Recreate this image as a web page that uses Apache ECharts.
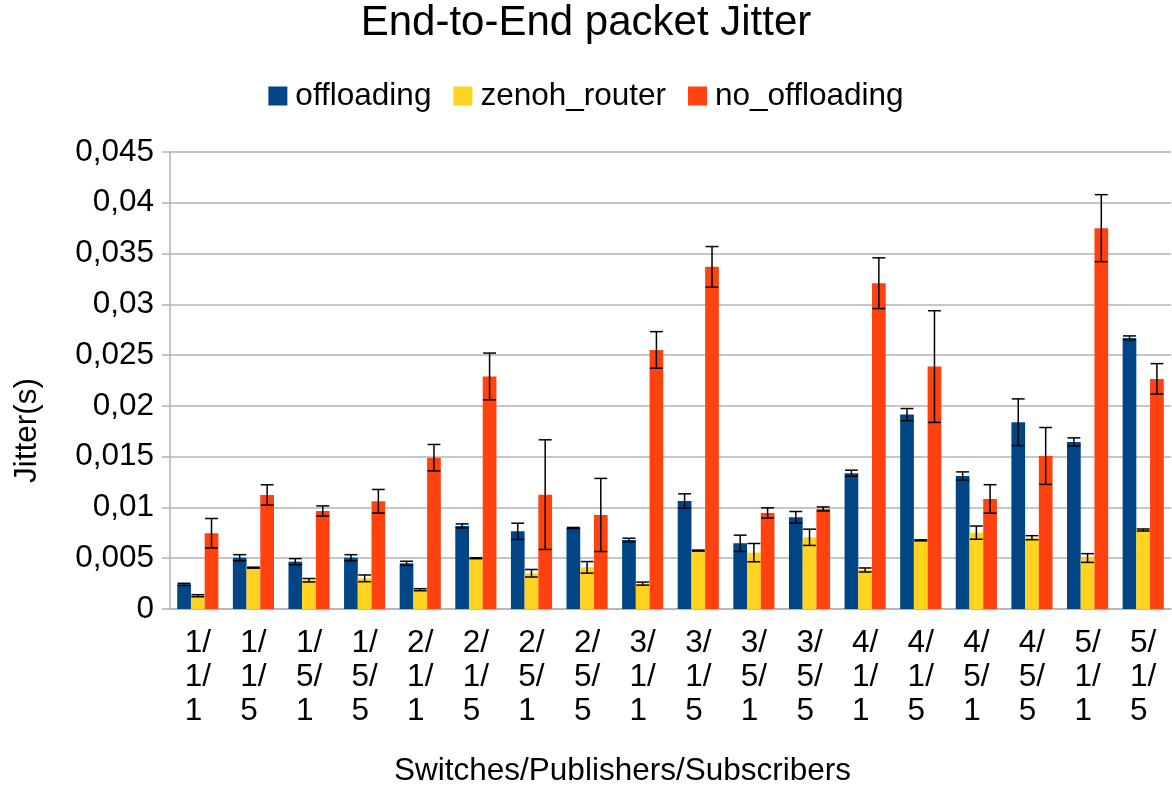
<!DOCTYPE html>
<html>
<head>
<meta charset="utf-8">
<title>End-to-End packet Jitter</title>
<script src="https://cdn.jsdelivr.net/npm/echarts@6/dist/echarts.min.js"></script>
<style>
html, body { margin: 0; padding: 0; background: #fff; }
#chart { width: 1172px; height: 785px; }
</style>
</head>
<body>
<div id="chart"></div>
<script>
// Switches/Publishers/Subscribers
var categories = ['1/1/1', '1/1/5', '1/5/1', '1/5/5', '2/1/1', '2/1/5', '2/5/1', '2/5/5', '3/1/1',
	'3/1/5', '3/5/1', '3/5/5', '4/1/1', '4/1/5', '4/5/1', '4/5/5', '5/1/1', '5/1/5'];

var offloading = [0.00243, 0.00505, 0.00466, 0.00505, 0.0045, 0.00818, 0.00765, 0.00798, 0.0068,
	0.01064, 0.00647, 0.00903, 0.01337, 0.01914, 0.0131, 0.01839, 0.01645, 0.02669];
var offloadingErr = [0.0001, 0.0003, 0.0003, 0.0003, 0.0002, 0.0002, 0.0008, 0.00005, 0.00017,
	0.0007, 0.0008, 0.00057, 0.0003, 0.0006, 0.0004, 0.0023, 0.0004, 0.0002];

var zenohRouter = [0.00131, 0.00407, 0.00283, 0.00302, 0.0019, 0.005, 0.00352, 0.0041, 0.0025,
	0.00575, 0.00555, 0.00706, 0.00384, 0.00676, 0.00752, 0.00702, 0.00502, 0.00778];
var zenohRouterErr = [0.0001, 0.00005, 0.00017, 0.00033, 0.0001, 0.00005, 0.00037, 0.00057, 0.00015,
	0.00005, 0.0009, 0.0008, 0.0002, 0.00005, 0.00065, 0.0002, 0.00043, 0.0001];

var noOffloading = [0.00746, 0.01123, 0.00965, 0.01061, 0.0149, 0.0229, 0.01126, 0.00926, 0.02551,
	0.03369, 0.00946, 0.00985, 0.03208, 0.02387, 0.01084, 0.01507, 0.0375, 0.02266];
var noOffloadingErr = [0.00145, 0.001, 0.0005, 0.00116, 0.0013, 0.0023, 0.0054, 0.0036, 0.0018,
	0.002, 0.0005, 0.0002, 0.0025, 0.0055, 0.0014, 0.0028, 0.0033, 0.0015];

var seriesNames = ['offloading', 'zenoh_router', 'no_offloading'];
var colors = ['#004586', '#ffd320', '#ff420e'];

var FONT = 'Liberation Sans';
var GAP = 0.26; // barCategoryGap

// error bars, drawn over bar number idx of the group
function errorSeries(name, idx, values, errs) {
	var data = [];
	for (var i = 0; i < values.length; i++) {
		data.push([i, values[i], errs[i]]);
	}
	return {
		type: 'custom',
		name: name + '_err',
		silent: true,
		z: 10,
		data: data,
		renderItem: function(params, api) {
			var v = api.value(1), e = api.value(2);
			var band = api.size([1, 0])[0];
			var barW = band * (1 - GAP) / 3;
			var hi = api.coord([api.value(0), v + e]);
			var lo = api.coord([api.value(0), v - e]);
			var x = hi[0] + (idx - 1) * barW;
			var half = barW * 0.47;
			var st = { stroke: '#000', lineWidth: 1.5 };
			return {
				type: 'group',
				children: [
					{ type: 'line', shape: { x1: x, y1: hi[1], x2: x, y2: lo[1] }, style: st },
					{ type: 'line', shape: { x1: x - half, y1: hi[1], x2: x + half, y2: hi[1] }, style: st },
					{ type: 'line', shape: { x1: x - half, y1: lo[1], x2: x + half, y2: lo[1] }, style: st }
				]
			};
		}
	};
}

function barSeries(name, values, color) {
	return {
		type: 'bar',
		name: name,
		data: values,
		barGap: '0%',
		barCategoryGap: (GAP * 100) + '%',
		itemStyle: { color: color }
	};
}

var myChart = echarts.init(document.getElementById('chart'));
var option = {
	animation: false,
	color: colors,
	textStyle: { fontFamily: FONT },
	title: {
		text: 'End-to-End packet Jitter',
		left: 'center',
		top: -3,
		textStyle: { fontFamily: FONT, fontSize: 42, fontWeight: 'normal', color: '#000' }
	},
	legend: {
		data: seriesNames,
		top: 75,
		left: 'center',
		itemWidth: 19,
		itemHeight: 19,
		itemGap: 22,
		icon: 'rect',
		textStyle: { fontFamily: FONT, fontSize: 31.5, color: '#000', padding: [0, 0, 0, 3] }
	},
	grid: { left: 170, right: 1, top: 152, bottom: 176, outerBoundsMode: 'none' },
	xAxis: {
		type: 'category',
		data: categories,
		name: 'Switches/Publishers/Subscribers',
		nameLocation: 'middle',
		nameGap: 146,
		// LibreOffice centres the title on the page, not on the plot
		nameTextStyle: { fontFamily: FONT, fontSize: 31.5, color: '#000', padding: [0, 96, 0, 0] },
		axisLine: { lineStyle: { color: '#b3b3b3', width: 1.5 } },
		axisTick: { length: 8, interval: 0, lineStyle: { color: '#b3b3b3', width: 1.5 } },
		axisLabel: {
			interval: 0,
			margin: 17,
			fontFamily: FONT,
			fontSize: 31.5,
			lineHeight: 34,
			color: '#000',
			formatter: function(v) {
				var p = v.split('/');
				// trailing space keeps the last line left-aligned with "n/"
				return p[0] + '/\n' + p[1] + '/\n' + p[2] + ' ';
			}
		}
	},
	yAxis: {
		type: 'value',
		min: 0,
		max: 0.045,
		interval: 0.005,
		name: 'Jitter(s)',
		nameLocation: 'middle',
		nameGap: 127,
		nameTextStyle: { fontFamily: FONT, fontSize: 31.5, color: '#000', padding: [0, 100, 0, 0] },
		axisLine: { show: true, lineStyle: { color: '#b3b3b3', width: 1.5 } },
		axisTick: { show: true, length: 8, lineStyle: { color: '#b3b3b3', width: 1.5 } },
		splitLine: { lineStyle: { color: '#b3b3b3', width: 1.5 } },
		axisLabel: {
			margin: 16,
			fontFamily: FONT,
			fontSize: 31.5,
			color: '#000',
			formatter: function(v) {
				return String(+v.toFixed(3)).replace('.', ',');
			}
		}
	},
	series: [
		barSeries(seriesNames[0], offloading, colors[0]),
		barSeries(seriesNames[1], zenohRouter, colors[1]),
		barSeries(seriesNames[2], noOffloading, colors[2]),
		errorSeries(seriesNames[0], 0, offloading, offloadingErr),
		errorSeries(seriesNames[1], 1, zenohRouter, zenohRouterErr),
		errorSeries(seriesNames[2], 2, noOffloading, noOffloadingErr)
	]
};
myChart.setOption(option);
</script>
</body>
</html>
